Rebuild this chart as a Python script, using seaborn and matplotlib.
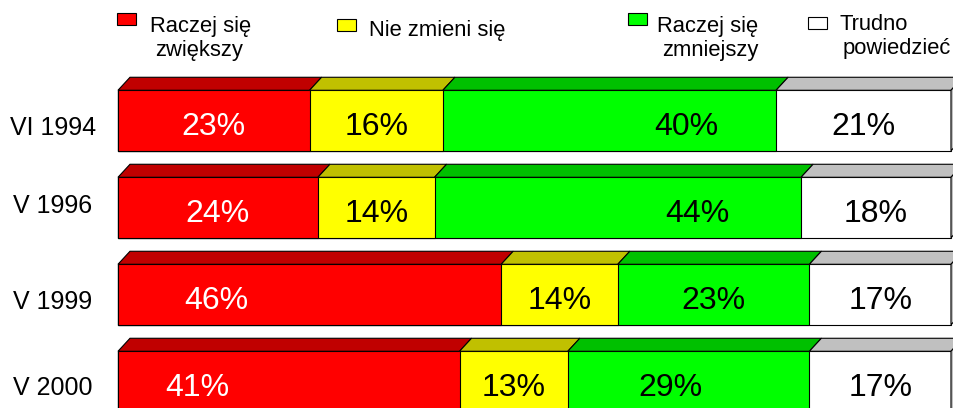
import numpy as np
import pandas as pd
import matplotlib
matplotlib.use("Agg")
import matplotlib.pyplot as plt
from matplotlib.patches import Polygon, Rectangle
import seaborn as sns

# ---------------- data ----------------
periods = ["VI 1994", "V 1996", "V 1999", "V 2000"]
series_names = ["Raczej się\nzwiększy", "Nie zmieni się", "Raczej się\nzmniejszy", "Trudno\npowiedzieć"]
zwiekszy = [23, 24, 46, 41]
nie_zmieni = [16, 14, 14, 13]
zmniejszy = [40, 44, 23, 29]
trudno = [21, 18, 17, 17]

# label anchor positions (percent units, centre of each value label)
label_x_zwiekszy = [11.5, 12.0, 11.8, 9.5]
label_x_nie = [31.0, 31.0, 53.0, 47.5]
label_x_zmniejszy = [68.2, 69.5, 71.5, 66.3]
label_x_trudno = [89.5, 91.0, 91.5, 91.5]

# category label baseline offsets from bar centre (pixels)
period_label_dy = [14.5, 6.0, 14.5, 14.0]

# ---------------- style ----------------
sns.set_theme(style="white")
plt.rcParams["font.family"] = ["Liberation Sans", "DejaVu Sans"]

front_colors = ["#FF0000", "#FFFF00", "#00FF00", "#FFFFFF"]
top_colors = ["#C00000", "#C0C000", "#00C000", "#C0C0C0"]
text_colors = ["white", "black", "black", "black"]

W, H = 954, 408
fig = plt.figure(figsize=(W / 100, H / 100), dpi=100)
ax = fig.add_axes([0, 0, 1, 1])

series = np.array([zwiekszy, nie_zmieni, zmniejszy, trudno], dtype=float)
cum = np.cumsum(series, axis=0)
starts = cum - series
labels_x = [label_x_zwiekszy, label_x_nie, label_x_zmniejszy, label_x_trudno]

BAR_H = 0.695
PX = 8.33        # pixels per percent
X0 = 118         # pixel of 0 %
Y0 = 120.5       # pixel centre of first bar
PITCH = 87.0     # pixels between bars

for k in reversed(range(len(series))):
    sns.barplot(x=cum[k], y=periods, orient="h", color=front_colors[k],
                saturation=1, width=BAR_H, edgecolor="black", linewidth=0.8,
                ax=ax, zorder=2)

ax.set_xlim(-X0 / PX, (W - X0) / PX)
ax.set_ylim((H - Y0) / PITCH, -Y0 / PITCH)
ax.axis("off")

dx = 12 / PX
dy = 13 / PITCH
for i in range(len(periods)):
    yt = i - BAR_H / 2
    yb = i + BAR_H / 2
    for k in range(len(series)):
        a, b = starts[k, i], cum[k, i]
        ax.add_patch(Polygon([(a, yt), (b, yt), (b + dx, yt - dy), (a + dx, yt - dy)],
                             closed=True, fc=top_colors[k], ec="black", lw=0.8, zorder=3))
    end = cum[-1, i]
    ax.add_patch(Polygon([(end, yt), (end + dx, yt - dy), (end + dx, yb - dy), (end, yb)],
                         closed=True, fc=top_colors[-1], ec="black", lw=0.8, zorder=3))
    for k in range(len(series)):
        ax.text(labels_x[k][i], i + 14.3 / PITCH, f"{int(series[k, i])}%",
                ha="center", va="baseline", fontsize=23, color=text_colors[k], zorder=5)
    ax.text(53 / W, i + period_label_dy[i] / PITCH, periods[i], transform=ax.get_yaxis_transform(),
            ha="center", va="baseline", fontsize=18, color="black")

# ---------------- legend ----------------
leg_boxes = [(117, 13, 19, 12), (337, 19, 19, 12), (628, 13, 19, 12), (808, 17, 19, 12)]
leg_text = [
    [(200.5, 32, "center"), (199, 56, "center")],
    [(369, 36, "left")],
    [(707.5, 32, "center"), (710, 56, "center")],
    [(840, 30, "left"), (843, 54, "left")],
]
for k, name in enumerate(series_names):
    bx, by, bw, bh = leg_boxes[k]
    fig.add_artist(Rectangle((bx / W, 1 - (by + bh) / H), bw / W, bh / H,
                             transform=fig.transFigure, fc=front_colors[k],
                             ec="black", lw=0.8))
    for (tx, ty, ha), line in zip(leg_text[k], name.split("\n")):
        fig.text(tx / W, 1 - ty / H, line, ha=ha, va="baseline", fontsize=15.8, color="black")

fig.savefig("out.png", dpi=100)
